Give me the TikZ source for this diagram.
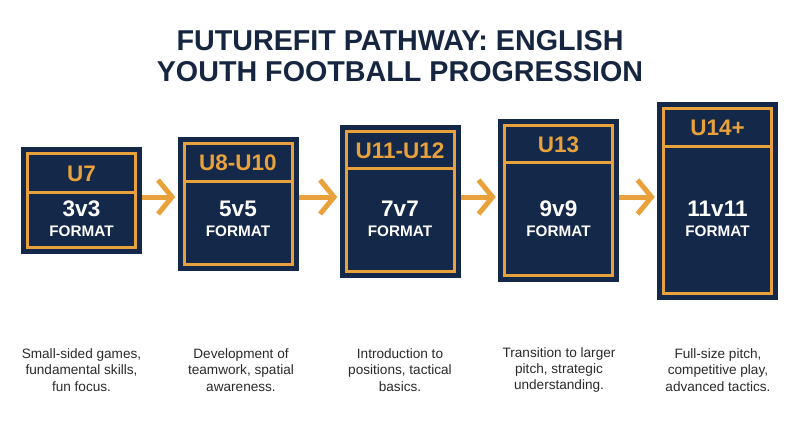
\documentclass[tikz,border=0pt]{standalone}
\usepackage{fontspec}
\setmainfont{Liberation Sans}
\usetikzlibrary{arrows.meta,calc}
\definecolor{navy}{HTML}{14284A}
\definecolor{gold}{HTML}{E9A23B}
\definecolor{titlecol}{HTML}{172640}
\definecolor{bodycol}{HTML}{2A2A2A}
\begin{document}
\begin{tikzpicture}[x=1pt,y=-1pt,
 outerbox/.style={draw=none, fill=navy, minimum width=121pt, inner sep=0pt, rectangle},
 innerline/.style={draw=gold, line width=3pt},
 hdr/.style={text=gold, inner sep=0pt, font=\bfseries\fontsize{22.5}{24}\selectfont},
 num/.style={text=white, inner sep=0pt, font=\bfseries\fontsize{22.5}{24}\selectfont},
 fmt/.style={text=white, inner sep=0pt, font=\bfseries\fontsize{15.3}{17}\selectfont},
 desc/.style={text=bodycol, align=center, inner sep=0pt, font=\fontsize{13.6}{16.2}\selectfont},
 titlestyle/.style={text=titlecol, align=center, inner sep=0pt, font=\bfseries\fontsize{28.7}{30.5}\selectfont},
 arr/.style={draw=gold, line width=5pt, shorten >=2pt, -{Straight Barb[length=14pt,width=34pt]}}
]
\useasboundingbox[fill=white] (0,0) rectangle (800,447);

\node[titlestyle] (title) at (400,56) {FUTUREFIT PATHWAY: ENGLISH\\YOUTH FOOTBALL PROGRESSION};

\foreach \n/\cx/\top/\bot/\div/\hd/\num in {
  b1/81.5/147/254/192/U7/3v3,
  b2/238/137/271/181/U8-U10/5v5,
  b3/400/125/278/168/U11-U12/7v7,
  b4/558.5/119/282/162/U13/9v9,
  b5/717.5/102/300/146/U14+/11v11}{
  \node[outerbox, minimum height={(\bot-\top)*1pt}] (\n) at (\cx,{(\top+\bot)/2}) {};
  \draw[innerline] ({\cx-54},{\top+6.5}) rectangle ({\cx+54},{\bot-6.5});
  \draw[innerline] ({\cx-54},\div) -- ({\cx+54},\div);
  \node[hdr] (\n h) at (\cx,{(\top+6.5+\div)/2+1}) {\hd};
  \node[num] (\n n) at (\cx,209) {\num};
  \node[fmt] (\n f) at (\cx,231.5) {FORMAT};
}

\coordinate (ay) at (0,197);
\draw[arr] (b1.east |- ay) -- (b2.west |- ay);
\draw[arr] (b2.east |- ay) -- (b3.west |- ay);
\draw[arr] (b3.east |- ay) -- (b4.west |- ay);
\draw[arr] (b4.east |- ay) -- (b5.west |- ay);

\node[desc] (d1) at (81.5,370) {Small-sided games,\\fundamental skills,\\fun focus.};
\node[desc] (d2) at (241,370) {Development of\\teamwork, spatial\\awareness.};
\node[desc] (d3) at (400,370) {Introduction to\\positions, tactical\\basics.};
\node[desc] (d4) at (559,370) {Transition to larger\\pitch, strategic\\understanding.};
\node[desc] (d5) at (718,370) {Full-size pitch,\\competitive play,\\advanced tactics.};
\end{tikzpicture}
\end{document}
